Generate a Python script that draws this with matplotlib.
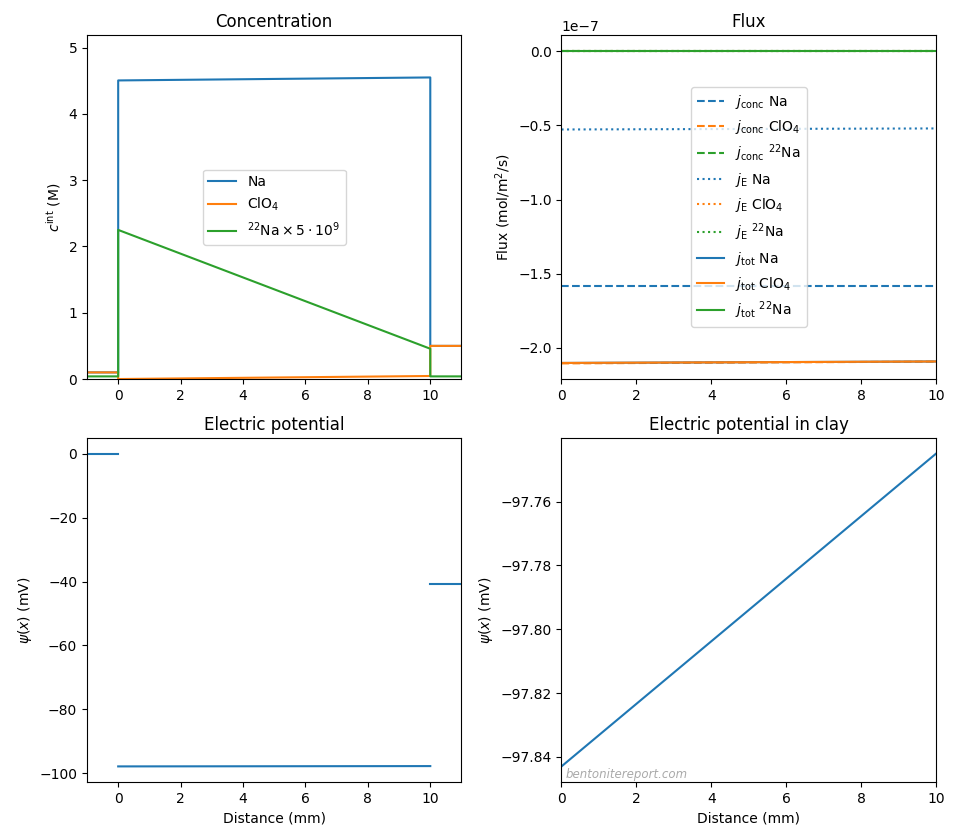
import matplotlib
matplotlib.use("Agg")
import matplotlib.pyplot as plt
import numpy as np

# ---- Concentration data (M) ----
x_conc = [-1, 0, 0, 10, 10, 11]
c_na = [0.1, 0.1, 4.505, 4.55, 0.5, 0.5]
c_clo4 = [0.1, 0.1, 0.0, 0.046, 0.5, 0.5]
c_na22_scaled = [0.04, 0.04, 2.25, 0.457, 0.04, 0.04]

# ---- Flux data (mol/m2/s), clay region ----
x_clay = [0, 10]
j_conc_na = [-1.585e-7, -1.585e-7]
j_conc_clo4 = [-2.106e-7, -2.094e-7]
j_conc_na22 = [0.0, 0.0]
j_e_na = [-0.527e-7, -0.520e-7]
j_e_clo4 = [0.005e-7, 0.005e-7]
j_e_na22 = [0.0, 0.0]
j_tot_na = [-2.103e-7, -2.093e-7]
j_tot_clo4 = [-2.103e-7, -2.093e-7]
j_tot_na22 = [0.0, 0.0]

# ---- Electric potential (mV) ----
x_left = [-1, 0]
psi_left = [0.0, 0.0]
psi_clay = [-97.8430, -97.7450]
x_right = [10, 11]
psi_right = [-40.7, -40.7]

fig, axes = plt.subplots(2, 2, figsize=(9.6, 8.4), dpi=100)
fig.subplots_adjust(left=0.0906, right=0.975, top=0.9583, bottom=0.069,
                    wspace=0.267, hspace=0.1715)

ax = axes[0, 0]
ax.plot(x_conc, c_na, label="Na")
ax.plot(x_conc, c_clo4, label=r"ClO$_4$")
ax.plot(x_conc, c_na22_scaled, label=r"$^{22}\mathrm{Na}\times 5\cdot 10^9$")
ax.set_xlim(-1, 11)
ax.set_ylim(0, 5.19)
ax.set_ylabel(r"$c^\mathrm{int}$ (M)")
ax.set_title("Concentration")
ax.legend(loc="center")

ax = axes[0, 1]
ax.plot(x_clay, j_conc_na, "--", color="C0", label=r"$j_\mathrm{conc}$ Na")
ax.plot(x_clay, j_conc_clo4, "--", color="C1", label=r"$j_\mathrm{conc}$ ClO$_4$")
ax.plot(x_clay, j_conc_na22, "--", color="C2", label=r"$j_\mathrm{conc}$ $^{22}$Na")
ax.plot(x_clay, j_e_na, ":", color="C0", label=r"$j_\mathrm{E}$ Na")
ax.plot(x_clay, j_e_clo4, ":", color="C1", label=r"$j_\mathrm{E}$ ClO$_4$")
ax.plot(x_clay, j_e_na22, ":", color="C2", label=r"$j_\mathrm{E}$ $^{22}$Na")
ax.plot(x_clay, j_tot_na, "-", color="C0", label=r"$j_\mathrm{tot}$ Na")
ax.plot(x_clay, j_tot_clo4, "-", color="C1", label=r"$j_\mathrm{tot}$ ClO$_4$")
ax.plot(x_clay, j_tot_na22, "-", color="C2", label=r"$j_\mathrm{tot}$ $^{22}$Na")
ax.set_xlim(0, 10)
ax.set_ylabel(r"Flux (mol/m$^2$/s)")
ax.set_title("Flux")
ax.legend(loc="center")

ax = axes[1, 0]
ax.plot(x_left, psi_left, color="C0")
ax.plot(x_clay, psi_clay, color="C0")
ax.plot(x_right, psi_right, color="C0")
ax.set_xlim(-1, 11)
ax.set_xlabel("Distance (mm)")
ax.set_ylabel(r"$\psi(x)$ (mV)")
ax.set_title("Electric potential")

ax = axes[1, 1]
ax.plot(x_clay, psi_clay, color="C0")
ax.set_xlim(0, 10)
ax.set_xlabel("Distance (mm)")
ax.set_ylabel(r"$\psi(x)$ (mV)")
ax.set_title("Electric potential in clay")
ax.text(0.01, 0.004, "bentonitereport.com", transform=ax.transAxes,
        fontsize=8.5, color="#aaaaaa", style="italic", ha="left", va="bottom")

fig.savefig("out.png", dpi=100)
